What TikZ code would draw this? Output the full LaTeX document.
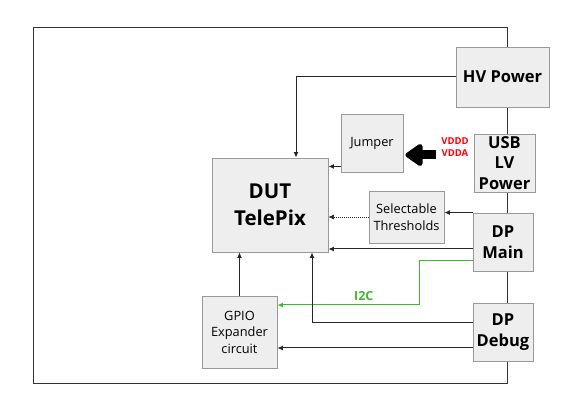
\documentclass[tikz,border=0pt]{standalone}
\usepackage{fontspec}
\setmainfont{Open Sans}
\usetikzlibrary{arrows.meta}

\definecolor{boxfill}{HTML}{EEEEEE}
\definecolor{boxline}{HTML}{999999}
\definecolor{i2cgreen}{HTML}{3DBA2C}

\begin{document}
\begin{tikzpicture}[
  x=1pt, y=-1pt,
  every node/.style={align=center, inner sep=0pt},
  block/.style={draw=boxline, fill=boxfill, line width=0.9pt},
  bigblock/.style={block, font=\fontsize{16.5}{20.5}\selectfont\bfseries},
  smallblock/.style={block, font=\fontsize{12.8}{16.5}\selectfont},
  arr/.style={-{Latex[length=5.5pt,width=5pt]}, line width=1pt, draw=black!85},
  dotarr/.style={arr, densely dotted, line width=0.7pt},
  i2c/.style={arr, draw=i2cgreen, line width=1pt},
  power/.style={line width=9pt, line join=round, -{Triangle[round, length=19pt, width=25pt]}}
]
\useasboundingbox (0,0) rectangle (581,411);

% frame of the setup
\draw[draw=black!80, line width=0.8pt] (33,27) rectangle (507,383);

\node[bigblock, minimum width=93pt, minimum height=60pt] (hv) at (502.5,77) {HV Power};
\node[smallblock, minimum width=62pt, minimum height=58pt] (jumper) at (372,143) {Jumper};
\node[bigblock, minimum width=61pt, minimum height=58pt] (usb) at (504.5,163) {USB\\LV\\Power};
\node[block, minimum width=116pt, minimum height=94pt, font=\fontsize{20.5}{27}\selectfont\bfseries] (dut) at (270,205) {DUT\\TelePix};
\node[smallblock, minimum width=75pt, minimum height=52pt] (sel) at (406.5,217) {Selectable\\Thresholds};
\node[bigblock, minimum width=60pt, minimum height=58pt] (dpmain) at (503,242) {DP\\Main};
\node[bigblock, minimum width=60pt, minimum height=58pt] (dpdebug) at (503,332) {DP\\Debug};
\node[smallblock, minimum width=75pt, minimum height=72pt] (gpio) at (239.5,332) {GPIO\\Expander\\circuit};

\node[text=red, font=\fontsize{9.5}{12}\selectfont\bfseries] (vlabel) at (455,147) {VDDD\\VDDA};
\coordinate (vin) at (436,155);

% connections
\draw[arr] (hv.west) -| ([xshift=26pt]dut.north);
\draw[arr] ([yshift=6pt]jumper.south west) coordinate (j) -- (j -| dut.east);
\draw[power] (vin) -- ([xshift=2pt]vin -| jumper.east);
\draw[dotarr] (sel.west) -- (sel.west -| dut.east);
\draw[arr] (dpmain.north west) -- (dpmain.north west -| sel.east);
\draw[arr] ([yshift=-7pt]dpmain.west) coordinate (m) -- (m -| dut.east);
\coordinate (i2cturn) at (419,305);
\draw[i2c] ([yshift=-19pt]dpmain.west) -| (i2cturn) -- (i2cturn -| gpio.east)
  node[pos=0.39, above=3.5pt, text=i2cgreen, font=\fontsize{12.5}{14}\selectfont\bfseries] (i2clabel) {I2C};
\draw[arr] ([yshift=9pt]dpdebug.west) -| ([xshift=42pt]dut.south);
\draw[arr] ([yshift=-16pt]dpdebug.west) coordinate (d) -- (d -| gpio.east);
\draw[arr] (gpio.north) -- (gpio.north |- dut.south);
\end{tikzpicture}
\end{document}
